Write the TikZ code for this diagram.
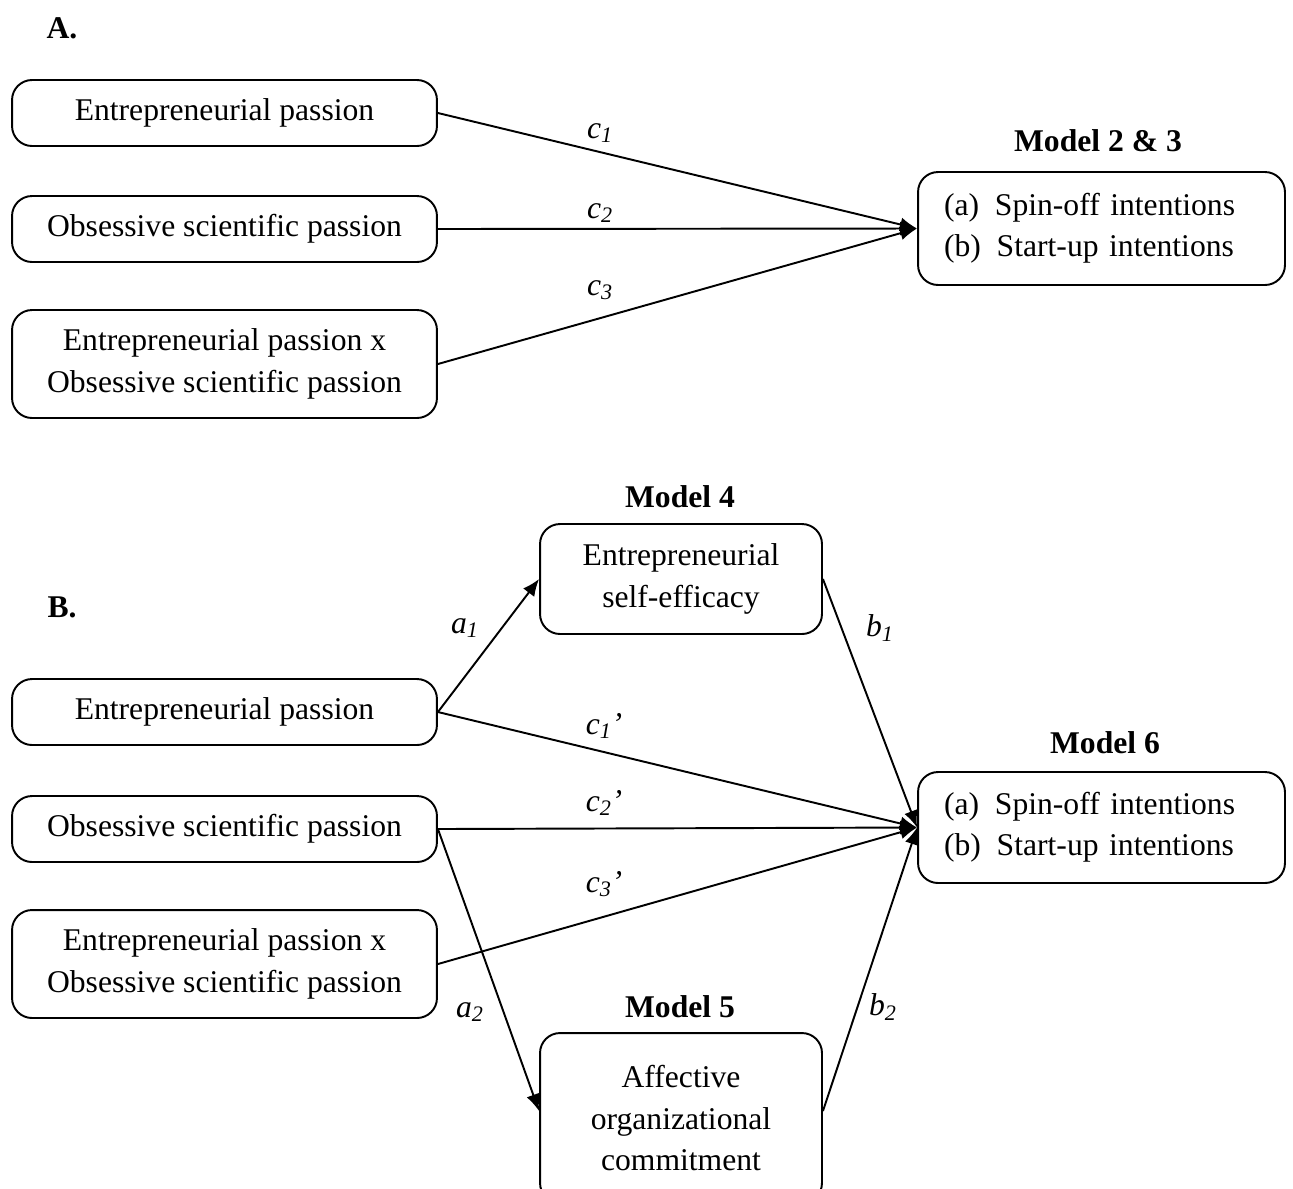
\documentclass[tikz,border=0pt]{standalone}
\usepackage{fontspec}
\setmainfont{Liberation Serif}
\usetikzlibrary{arrows.meta,positioning,calc}

\begin{document}
\begin{tikzpicture}[x=0.02cm,y=-0.02cm]
    \tikzstyle{box}=[draw,rounded corners=0.4cm,line width=1.1pt,align=center,font=\fontsize{18}{23.5}\selectfont]
    \tikzstyle{lbl}=[font=\fontsize{18}{20}\selectfont\itshape]
    \tikzstyle{hdr}=[font=\fontsize{18}{20}\selectfont\bfseries]
    \tikzstyle{arr}=[line width=1.1pt,-{Latex[length=3.4mm,width=2.8mm]}]
    \useasboundingbox (0,0) rectangle (1293,1188);

    % part A
    \node[hdr] at (62,28) (ha) {A.};
    \node[box,minimum width=8.5cm,minimum height=1.32cm] at (224.5,113) (ep1) {Entrepreneurial passion};
    \node[box,minimum width=8.5cm,minimum height=1.32cm] at (224.5,229) (osp1) {Obsessive scientific passion};
    \node[box,minimum width=8.5cm,minimum height=2.16cm] at (224.5,364) (int1) {Entrepreneurial passion x\\Obsessive scientific passion};
    \node[box,align=left,text width=6.3cm,minimum width=7.34cm,minimum height=2.26cm] at (1101.5,228.5) (t1) {(a)\enspace Spin-off intentions\\(b)\enspace Start-up intentions};
    \node[hdr] at (1098,141) (m23) {Model 2 \& 3};
    \foreach \n in {ep1,osp1,int1} {
      \draw[arr] (\n.east) -- (t1.west);
    }
    \node[lbl] at (600,133) (c1) {c\textsubscript{1}};
    \node[lbl] at (600,213) (c2) {c\textsubscript{2}};
    \node[lbl] at (600,290) (c3) {c\textsubscript{3}};

    % part B
    \node[hdr] at (62,607) (hb) {B.};
    \node[box,minimum width=8.5cm,minimum height=1.32cm] at (224.5,712) (ep2) {Entrepreneurial passion};
    \node[box,minimum width=8.5cm,minimum height=1.32cm] at (224.5,829) (osp2) {Obsessive scientific passion};
    \node[box,minimum width=8.5cm,minimum height=2.16cm] at (224.5,964) (int2) {Entrepreneurial passion x\\Obsessive scientific passion};
    \node[box,minimum width=5.64cm,minimum height=2.2cm] at (681,579) (m4) {Entrepreneurial\\self-efficacy};
    \node[box,minimum width=5.64cm,minimum height=3.4cm] at (681,1118) (m5) {Affective\\organizational\\commitment};
    \node[box,align=left,text width=6.3cm,minimum width=7.34cm,minimum height=2.22cm] at (1101.5,827.5) (t2) {(a)\enspace Spin-off intentions\\(b)\enspace Start-up intentions};
    \node[hdr] at (680,497) (hm4) {Model 4};
    \node[hdr] at (680,1007) (hm5) {Model 5};
    \node[hdr] at (1105,743) (hm6) {Model 6};

    \draw[arr] (ep2.east) -- (m4.west);
    \draw[arr] (osp2.east) -- ($(m5.west)+(0,-7)$);
    \draw[arr] (ep2.east) -- (t2.west);
    \draw[arr] (osp2.east) -- (t2.west);
    \draw[arr] (int2.east) -- (t2.west);
    \draw[arr] (m4.east) -- (t2.west);
    \draw[arr] ($(m5.east)+(0,-7)$) -- (t2.west);
    \node[lbl] at (465,628) (a1) {a\textsubscript{1}};
    \node[lbl] at (470,1012) (a2) {a\textsubscript{2}};
    \node[lbl] at (880,628) (b1) {b\textsubscript{1}};
    \node[lbl] at (883,1007) (b2) {b\textsubscript{2}};
    \node[lbl] at (604,726) (c1p) {c\textsubscript{1}’};
    \node[lbl] at (604,803) (c2p) {c\textsubscript{2}’};
    \node[lbl] at (604,884) (c3p) {c\textsubscript{3}’};
\end{tikzpicture}
\end{document}
